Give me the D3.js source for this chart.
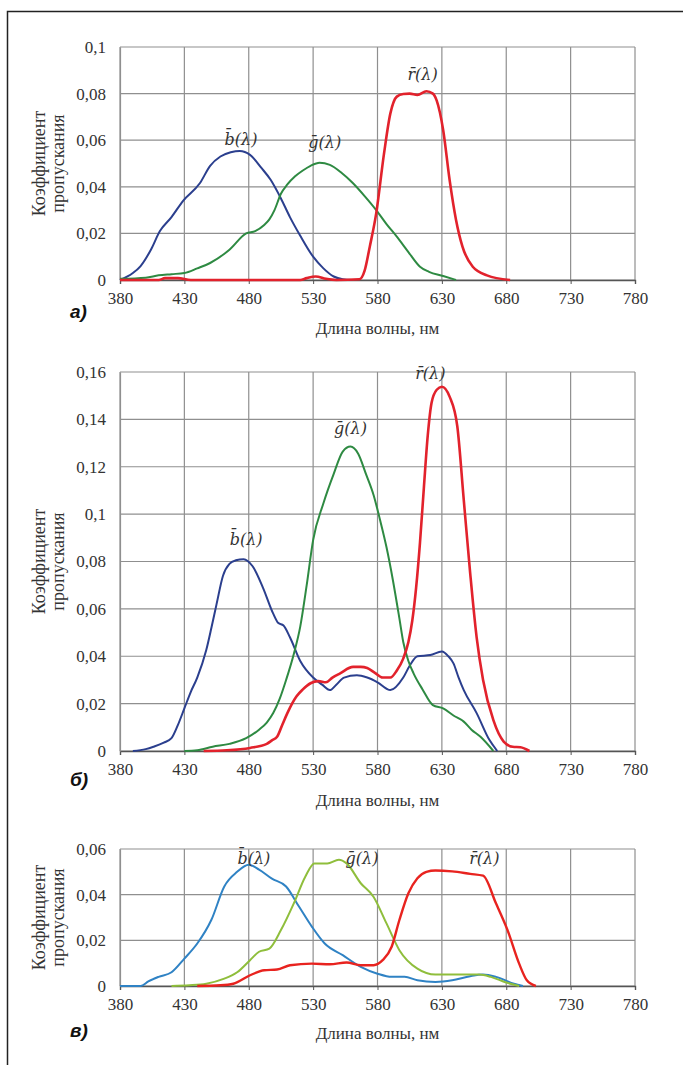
<!DOCTYPE html>
<html lang="ru">
<head>
    <meta charset="UTF-8">
    <title>Спектральные характеристики</title>
    <style>
        body {
            margin: 0;
            padding: 0;
            background: #fff;
        }
        svg text {
            font-family: "Liberation Serif", "Times New Roman", serif;
        }
    </style>
</head>
<body>
    <div id="chart"></div>

    <script src="https://d3js.org/d3.v7.min.js"></script>
    <script>
        // wavelength ticks, same for all three panels
        var xTicks = [380, 430, 480, 530, 580, 630, 680, 730, 780];

        // y tick values per panel
        var yTicksA = [0, 0.02, 0.04, 0.06, 0.08, 0.1];
        var yTicksB = [0, 0.02, 0.04, 0.06, 0.08, 0.1, 0.12, 0.14, 0.16];
        var yTicksC = [0, 0.02, 0.04, 0.06];

        // panel a) -- [wavelength nm, coefficient]
        var blueA = [[380,0],[390,0.003],[396,0.006],[404,0.013],[411,0.021],[420,0.027],[429,0.034],[442,0.0415],[450,0.049],[458,0.053],[466,0.0548],[473,0.0554],[481,0.0537],[490,0.048],[497,0.043],[505,0.035],[512,0.027],[520,0.019],[530,0.010],[538,0.005],[546,0.0015],[553,0.0003],[560,0]];
        var greenA = [[380,0.0005],[400,0.001],[410,0.002],[420,0.0025],[430,0.003],[440,0.005],[450,0.0073],[465,0.013],[478,0.020],[485,0.021],[492,0.0236],[496,0.026],[500,0.030],[505,0.037],[510,0.041],[516,0.0445],[522,0.047],[528,0.049],[535,0.0503],[543,0.0494],[552,0.046],[561,0.0415],[570,0.036],[579,0.030],[587,0.024],[595,0.0186],[604,0.012],[613,0.0057],[620,0.0035],[631,0.0017],[641,0]];
        var redA = [[380,0],[410,0],[415,0.0008],[425,0.0008],[435,0],[520,0],[525,0.0008],[532,0.0015],[540,0.0005],[548,0],[566,0.0003],[570,0.004],[574,0.0143],[579,0.0286],[585,0.054],[590,0.0715],[595,0.0787],[600,0.0798],[605,0.080],[611,0.0794],[618,0.081],[623,0.080],[626,0.077],[631,0.0644],[636,0.043],[641,0.0258],[646,0.0143],[654,0.0057],[665,0.002],[683,0]];

        // panel б)
        var blueB = [[390,0],[400,0.0008],[406,0.0018],[414,0.0035],[420,0.0054],[425,0.011],[430,0.018],[435,0.025],[440,0.031],[447,0.0426],[451,0.052],[455,0.062],[460,0.074],[465,0.0790],[470,0.0805],[476,0.081],[483,0.078],[491,0.069],[499,0.058],[503,0.054],[507,0.053],[512,0.048],[520,0.038],[530,0.031],[537,0.028],[543,0.0257],[548,0.028],[554,0.031],[564,0.032],[572,0.031],[580,0.029],[590,0.0257],[600,0.031],[605,0.036],[611,0.040],[621,0.0405],[630,0.042],[635,0.040],[639,0.037],[643,0.031],[647,0.0257],[657,0.016],[667,0.0046],[673,0]];
        var greenB = [[430,0],[440,0.0003],[452,0.0018],[465,0.003],[478,0.0054],[488,0.009],[494,0.012],[499,0.016],[504,0.022],[509,0.030],[515,0.041],[520,0.0525],[525,0.07],[530,0.089],[538,0.1046],[546,0.117],[553,0.1264],[559,0.1285],[565,0.1255],[571,0.117],[577,0.108],[582,0.0975],[587,0.086],[592,0.072],[597,0.056],[600,0.046],[604,0.038],[608,0.0328],[615,0.026],[623,0.0194],[631,0.018],[639,0.015],[647,0.0124],[653,0.009],[660,0.006],[670,0]];
        var redB = [[445,0],[463,0.0003],[481,0.0013],[494,0.003],[498,0.0045],[502,0.006],[506,0.011],[510,0.016],[517,0.023],[522,0.026],[528,0.0286],[534,0.0295],[540,0.029],[545,0.031],[551,0.0328],[561,0.0355],[567,0.0355],[572,0.035],[578,0.033],[584,0.031],[590,0.031],[595,0.034],[600,0.039],[604,0.046],[607,0.055],[610,0.069],[613,0.088],[616,0.111],[619,0.133],[622,0.147],[626,0.1525],[630,0.1538],[636,0.1496],[642,0.137],[647,0.106],[652,0.075],[657,0.048],[662,0.030],[670,0.013],[678,0.004],[685,0.0018],[691,0.0016],[698,0]];

        // panel в)
        var blueC = [[380,0],[396,0],[402,0.002],[410,0.004],[420,0.006],[430,0.012],[440,0.0186],[451,0.029],[461,0.0436],[471,0.050],[480,0.0531],[488,0.051],[498,0.047],[509,0.0436],[519,0.0348],[529,0.026],[539,0.0186],[553,0.0135],[567,0.0084],[580,0.0054],[591,0.004],[601,0.004],[611,0.0025],[625,0.0018],[638,0.0025],[652,0.0043],[662,0.005],[672,0.004],[686,0.001],[693,0]];
        var greenC = [[420,0],[434,0.0003],[447,0.001],[461,0.0032],[471,0.006],[481,0.0113],[488,0.015],[496,0.0164],[505,0.0245],[515,0.0362],[524,0.048],[531,0.0537],[541,0.0537],[550,0.0553],[556,0.0537],[567,0.045],[577,0.039],[587,0.0274],[597,0.0157],[611,0.0076],[625,0.005],[642,0.005],[659,0.005],[668,0.004],[680,0.0015],[690,0]];
        var redC = [[440,0],[458,0.0003],[468,0.001],[481,0.0047],[492,0.0069],[502,0.0072],[512,0.0091],[529,0.0098],[543,0.0095],[556,0.0103],[567,0.0091],[577,0.0091],[584,0.0113],[591,0.0172],[597,0.0289],[604,0.0406],[611,0.0472],[618,0.050],[625,0.0506],[638,0.0502],[652,0.0491],[662,0.0483],[672,0.0362],[681,0.0245],[690,0.0098],[696,0.0025],[703,0]];

        // curve label anchors: [letter, wavelength, value]
        var labelsA = [["b", 474, 0.058], ["g", 539, 0.0565], ["r", 615, 0.086]];
        var labelsB = [["b", 478, 0.087], ["g", 559, 0.134], ["r", 621, 0.157]];
        var labelsC = [["b", 484, 0.0535], ["g", 568, 0.0535], ["r", 663, 0.0535]];

        var svgWidth = 683, svgHeight = 1065;
        var left = 120, right = 635;

        var svg = d3.select("#chart").append("svg")
            .attr("width", svgWidth)
            .attr("height", svgHeight);

        // frame of the page figure
        svg.append("path")
            .attr("d", "M7.5," + svgHeight + "V11.5H" + svgWidth)
            .attr("fill", "none")
            .attr("stroke", "#222")
            .attr("stroke-width", 1.5);

        var x = d3.scaleLinear().domain([380, 780]).range([left, right]);

        var panels = [
            { top: 47, bottom: 280, ticks: yTicksA, tag: "а)", tagY: 318, titleY: 334,
              colors: ["#2b3f8e", "#2e8a42", "#e2222c"], widths: [2, 2, 2.6],
              series: [blueA, greenA, redA], labels: labelsA },
            { top: 372, bottom: 751, ticks: yTicksB, tag: "б)", tagY: 786, titleY: 806,
              colors: ["#2b3f8e", "#2e8a42", "#e2222c"], widths: [2, 2, 2.6],
              series: [blueB, greenB, redB], labels: labelsB },
            { top: 849, bottom: 986, ticks: yTicksC, tag: "в)", tagY: 1037, titleY: 1039,
              colors: ["#2f82c4", "#8fbe3c", "#e8231f"], widths: [2, 2, 2.4],
              series: [blueC, greenC, redC], labels: labelsC }
        ];

        var fmt = function(v) { return String(+v.toFixed(2)).replace(".", ","); };

        panels.forEach(function(p) {
            var y = d3.scaleLinear()
                .domain([0, d3.max(p.ticks)])
                .range([p.bottom, p.top]);

            var g = svg.append("g");

            // grid
            g.selectAll(".vgrid").data(xTicks).enter().append("line")
                .attr("x1", d => x(d)).attr("x2", d => x(d))
                .attr("y1", p.top).attr("y2", p.bottom)
                .attr("stroke", "#8f8f8f").attr("stroke-width", 1.2);
            g.selectAll(".hgrid").data(p.ticks).enter().append("line")
                .attr("x1", left).attr("x2", right)
                .attr("y1", d => y(d)).attr("y2", d => y(d))
                .attr("stroke", "#8f8f8f").attr("stroke-width", 1.2);

            // x axis with ticks below the baseline
            var xAxis = g.append("g")
                .attr("transform", "translate(0," + p.bottom + ")")
                .call(d3.axisBottom(x).tickValues(xTicks).tickSize(4).tickPadding(8));
            xAxis.select(".domain").attr("stroke", "#555").attr("stroke-width", 1.4);
            xAxis.selectAll(".tick line").attr("stroke", "#555");
            xAxis.selectAll("text")
                .attr("font-size", "17px")
                .attr("fill", "#333")
                .style("font-family", "'Liberation Serif', serif");

            // y axis labels
            var yAxis = g.append("g")
                .attr("transform", "translate(" + left + ",0)")
                .call(d3.axisLeft(y).tickValues(p.ticks).tickFormat(fmt).tickSize(0).tickPadding(14));
            yAxis.select(".domain").attr("stroke", "#8f8f8f").attr("stroke-width", 1.2);
            yAxis.selectAll("text")
                .attr("font-size", "17px")
                .attr("fill", "#333")
                .style("font-family", "'Liberation Serif', serif");

            // curves
            var line = d3.line()
                .x(d => x(d[0]))
                .y(d => y(d[1]))
                .curve(d3.curveMonotoneX);

            p.series.forEach(function(s, i) {
                g.append("path")
                    .datum(s)
                    .attr("d", line)
                    .attr("fill", "none")
                    .attr("stroke", p.colors[i])
                    .attr("stroke-width", p.widths[i])
                    .attr("stroke-linejoin", "round");
            });

            // curve labels, letter with a bar over it
            g.selectAll(".lab").data(p.labels).enter().append("text")
                .attr("x", d => x(d[1]))
                .attr("y", d => y(d[2]))
                .attr("text-anchor", "middle")
                .attr("font-size", "16px")
                .attr("font-style", "italic")
                .attr("fill", "#333")
                .style("font-family", "'DejaVu Serif', 'Liberation Serif', serif")
                .text(d => d[0] + "\u0304(λ)");

            // axis titles
            g.append("text")
                .attr("x", (left + right) / 2)
                .attr("y", p.titleY)
                .attr("text-anchor", "middle")
                .attr("font-size", "17px")
                .attr("fill", "#333")
                .text("Длина волны, нм");

            var midY = (p.top + p.bottom) / 2;
            ["Коэффициент", "пропускания"].forEach(function(t, i) {
                g.append("text")
                    .attr("transform", "translate(" + (45 + i * 19) + "," + midY + ") rotate(-90)")
                    .attr("text-anchor", "middle")
                    .attr("font-size", "18px")
                    .attr("fill", "#333")
                    .text(t);
            });

            // panel tag
            g.append("text")
                .attr("x", 70)
                .attr("y", p.tagY)
                .attr("font-size", "19px")
                .attr("font-weight", "bold")
                .attr("font-style", "italic")
                .attr("fill", "#111")
                .style("font-family", "'Liberation Sans', Arial, sans-serif")
                .text(p.tag);
        });
    </script>
</body>
</html>
